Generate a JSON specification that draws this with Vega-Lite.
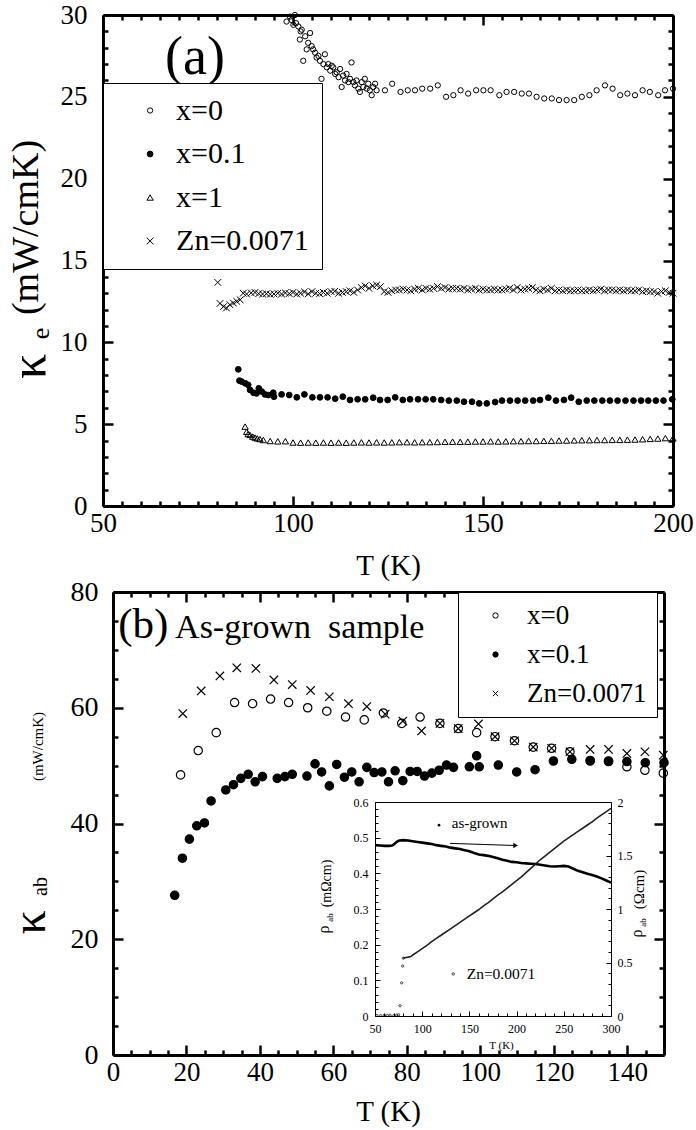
{
"$schema": "https://vega.github.io/schema/vega-lite/v6.json",
"width": 696, "height": 1130, "autosize": "none", "padding": 0, "background": "white",
"config": {
 "view": {"stroke": null},
 "font": "Liberation Serif",
 "axis": {"labelFont": "Liberation Serif", "titleFont": "Liberation Serif", "labelColor": "black", "titleColor": "black", "domainColor": "black", "tickColor": "black", "grid": false, "titleFontWeight": "normal", "labelFlush": false, "labelOverlap": false, "labelBound": false},
 "legend": {"labelFont": "Liberation Serif", "labelColor": "black"},
 "text": {"font": "Liberation Serif", "color": "black"}
},
"datasets": {
 "a": [
  {"s":"x=0","T":98.3,"k":29.6},{"s":"x=0","T":99.2,"k":29.9},{"s":"x=0","T":99.6,"k":29.7},{"s":"x=0","T":100.1,"k":29.4},{"s":"x=0","T":100.5,"k":30.0},{"s":"x=0","T":100.8,"k":29.5},{"s":"x=0","T":101.4,"k":29.3},{"s":"x=0","T":101.8,"k":28.5},{"s":"x=0","T":102.0,"k":29.0},{"s":"x=0","T":102.3,"k":29.1},{"s":"x=0","T":102.7,"k":27.2},{"s":"x=0","T":103.2,"k":28.7},{"s":"x=0","T":103.6,"k":27.9},{"s":"x=0","T":104.0,"k":28.3},{"s":"x=0","T":104.5,"k":28.9},{"s":"x=0","T":104.9,"k":28.1},{"s":"x=0","T":105.3,"k":27.9},{"s":"x=0","T":105.8,"k":27.7},{"s":"x=0","T":106.2,"k":27.4},{"s":"x=0","T":106.7,"k":27.5},{"s":"x=0","T":107.1,"k":27.2},{"s":"x=0","T":107.5,"k":26.1},{"s":"x=0","T":108.0,"k":27.0},{"s":"x=0","T":108.4,"k":27.6},{"s":"x=0","T":108.9,"k":26.8},{"s":"x=0","T":109.3,"k":27.0},{"s":"x=0","T":109.8,"k":26.6},{"s":"x=0","T":110.2,"k":26.9},{"s":"x=0","T":110.6,"k":26.8},{"s":"x=0","T":111.1,"k":26.4},{"s":"x=0","T":111.5,"k":26.5},{"s":"x=0","T":112.0,"k":26.2},{"s":"x=0","T":112.4,"k":26.7},{"s":"x=0","T":112.8,"k":25.6},{"s":"x=0","T":113.2,"k":26.3},{"s":"x=0","T":113.7,"k":26.0},{"s":"x=0","T":114.1,"k":26.4},{"s":"x=0","T":114.6,"k":25.9},{"s":"x=0","T":115.0,"k":26.1},{"s":"x=0","T":115.4,"k":27.1},{"s":"x=0","T":115.9,"k":25.9},{"s":"x=0","T":116.3,"k":25.7},{"s":"x=0","T":116.7,"k":26.0},{"s":"x=0","T":117.2,"k":25.5},{"s":"x=0","T":117.6,"k":25.3},{"s":"x=0","T":118.1,"k":25.9},{"s":"x=0","T":118.5,"k":25.6},{"s":"x=0","T":118.9,"k":26.1},{"s":"x=0","T":119.4,"k":25.5},{"s":"x=0","T":119.8,"k":25.8},{"s":"x=0","T":120.2,"k":25.4},{"s":"x=0","T":120.7,"k":25.1},{"s":"x=0","T":121.1,"k":25.6},{"s":"x=0","T":121.6,"k":25.8},{"s":"x=0","T":122.0,"k":25.4},
  {"s":"x=0","T":124.2,"k":25.4},{"s":"x=0","T":126.1,"k":25.8},{"s":"x=0","T":128.3,"k":25.3},{"s":"x=0","T":130.2,"k":25.4},{"s":"x=0","T":132.1,"k":25.4},{"s":"x=0","T":134.0,"k":25.5},{"s":"x=0","T":136.1,"k":25.5},{"s":"x=0","T":138.1,"k":25.7},{"s":"x=0","T":140.3,"k":25.0},{"s":"x=0","T":142.2,"k":25.1},{"s":"x=0","T":144.1,"k":25.4},{"s":"x=0","T":146.1,"k":25.2},{"s":"x=0","T":148.2,"k":25.4},{"s":"x=0","T":150.1,"k":25.4},{"s":"x=0","T":152.0,"k":25.4},{"s":"x=0","T":154.3,"k":25.1},{"s":"x=0","T":156.2,"k":25.3},{"s":"x=0","T":158.2,"k":25.3},{"s":"x=0","T":160.2,"k":25.2},{"s":"x=0","T":162.1,"k":25.2},{"s":"x=0","T":164.1,"k":25.0},{"s":"x=0","T":166.1,"k":24.9},{"s":"x=0","T":168.1,"k":24.9},{"s":"x=0","T":170.0,"k":24.8},{"s":"x=0","T":172.0,"k":24.8},{"s":"x=0","T":174.0,"k":24.8},{"s":"x=0","T":176.0,"k":25.0},{"s":"x=0","T":178.0,"k":25.1},{"s":"x=0","T":179.9,"k":25.4},{"s":"x=0","T":182.1,"k":25.7},{"s":"x=0","T":184.1,"k":25.5},{"s":"x=0","T":186.1,"k":25.1},{"s":"x=0","T":188.0,"k":25.2},{"s":"x=0","T":190.0,"k":25.1},{"s":"x=0","T":192.0,"k":25.4},{"s":"x=0","T":193.9,"k":25.3},{"s":"x=0","T":196.1,"k":25.1},{"s":"x=0","T":197.9,"k":25.4},{"s":"x=0","T":200.0,"k":25.5},
  {"s":"x=0.1","T":85.6,"k":8.35},{"s":"x=0.1","T":85.9,"k":7.66},{"s":"x=0.1","T":86.5,"k":7.6},{"s":"x=0.1","T":87.4,"k":7.5},{"s":"x=0.1","T":88.2,"k":7.4},{"s":"x=0.1","T":88.7,"k":7.09},{"s":"x=0.1","T":89.6,"k":6.92},{"s":"x=0.1","T":90.4,"k":6.88},{"s":"x=0.1","T":91.0,"k":7.19},{"s":"x=0.1","T":91.8,"k":6.99},{"s":"x=0.1","T":92.6,"k":6.82},{"s":"x=0.1","T":93.5,"k":6.78},{"s":"x=0.1","T":94.8,"k":6.92},{"s":"x=0.1","T":95.0,"k":6.68},{"s":"x=0.1","T":97.0,"k":6.82},{"s":"x=0.1","T":99.0,"k":6.78},{"s":"x=0.1","T":101.0,"k":6.64},{"s":"x=0.1","T":103.0,"k":6.82},{"s":"x=0.1","T":105.1,"k":6.64},{"s":"x=0.1","T":107.1,"k":6.64},{"s":"x=0.1","T":109.1,"k":6.64},{"s":"x=0.1","T":111.1,"k":6.56},{"s":"x=0.1","T":113.1,"k":6.68},{"s":"x=0.1","T":115.0,"k":6.48},{"s":"x=0.1","T":117.0,"k":6.52},{"s":"x=0.1","T":119.0,"k":6.52},{"s":"x=0.1","T":121.1,"k":6.62},{"s":"x=0.1","T":122.9,"k":6.48},{"s":"x=0.1","T":124.9,"k":6.48},{"s":"x=0.1","T":126.9,"k":6.64},{"s":"x=0.1","T":128.9,"k":6.48},{"s":"x=0.1","T":130.8,"k":6.52},{"s":"x=0.1","T":132.9,"k":6.52},{"s":"x=0.1","T":134.9,"k":6.52},{"s":"x=0.1","T":136.9,"k":6.52},{"s":"x=0.1","T":139.0,"k":6.48},{"s":"x=0.1","T":141.0,"k":6.44},{"s":"x=0.1","T":143.1,"k":6.44},{"s":"x=0.1","T":145.0,"k":6.37},{"s":"x=0.1","T":147.1,"k":6.37},{"s":"x=0.1","T":149.0,"k":6.27},{"s":"x=0.1","T":151.0,"k":6.27},{"s":"x=0.1","T":153.2,"k":6.35},{"s":"x=0.1","T":155.0,"k":6.44},{"s":"x=0.1","T":157.1,"k":6.44},{"s":"x=0.1","T":159.1,"k":6.44},{"s":"x=0.1","T":161.1,"k":6.44},{"s":"x=0.1","T":163.2,"k":6.44},{"s":"x=0.1","T":165.0,"k":6.48},{"s":"x=0.1","T":167.2,"k":6.62},{"s":"x=0.1","T":169.2,"k":6.44},{"s":"x=0.1","T":171.3,"k":6.48},{"s":"x=0.1","T":173.2,"k":6.62},{"s":"x=0.1","T":175.2,"k":6.37},{"s":"x=0.1","T":177.3,"k":6.44},{"s":"x=0.1","T":179.3,"k":6.44},{"s":"x=0.1","T":181.4,"k":6.44},{"s":"x=0.1","T":183.4,"k":6.44},{"s":"x=0.1","T":185.4,"k":6.44},{"s":"x=0.1","T":187.5,"k":6.44},{"s":"x=0.1","T":189.6,"k":6.44},{"s":"x=0.1","T":191.6,"k":6.44},{"s":"x=0.1","T":193.5,"k":6.44},{"s":"x=0.1","T":195.5,"k":6.44},{"s":"x=0.1","T":197.5,"k":6.44},{"s":"x=0.1","T":199.8,"k":6.52},
  {"s":"x=1","T":87.4,"k":4.85},{"s":"x=1","T":87.8,"k":4.54},{"s":"x=1","T":88.2,"k":4.4},{"s":"x=1","T":88.7,"k":4.34},{"s":"x=1","T":89.4,"k":4.24},{"s":"x=1","T":90.0,"k":4.18},{"s":"x=1","T":90.6,"k":4.13},{"s":"x=1","T":91.3,"k":4.09},{"s":"x=1","T":92.2,"k":4.03},{"s":"x=1","T":94,"k":3.97},{"s":"x=1","T":96,"k":3.95},{"s":"x=1","T":98,"k":3.96},{"s":"x=1","T":100,"k":3.88},{"s":"x=1","T":102,"k":3.87},{"s":"x=1","T":104,"k":3.88},{"s":"x=1","T":106,"k":3.87},{"s":"x=1","T":108,"k":3.88},{"s":"x=1","T":110,"k":3.87},{"s":"x=1","T":112,"k":3.88},{"s":"x=1","T":114,"k":3.87},{"s":"x=1","T":116,"k":3.88},{"s":"x=1","T":118,"k":3.89},{"s":"x=1","T":120,"k":3.88},{"s":"x=1","T":122,"k":3.89},{"s":"x=1","T":124,"k":3.88},{"s":"x=1","T":126,"k":3.89},{"s":"x=1","T":128,"k":3.9},{"s":"x=1","T":130,"k":3.9},{"s":"x=1","T":132,"k":3.89},{"s":"x=1","T":134,"k":3.9},{"s":"x=1","T":136,"k":3.9},{"s":"x=1","T":138,"k":3.91},{"s":"x=1","T":140,"k":3.92},{"s":"x=1","T":142,"k":3.93},{"s":"x=1","T":144,"k":3.92},{"s":"x=1","T":146,"k":3.93},{"s":"x=1","T":148,"k":3.94},{"s":"x=1","T":150,"k":3.94},{"s":"x=1","T":152,"k":3.95},{"s":"x=1","T":154,"k":3.94},{"s":"x=1","T":156,"k":3.95},{"s":"x=1","T":158,"k":3.96},{"s":"x=1","T":160,"k":3.96},{"s":"x=1","T":162,"k":3.97},{"s":"x=1","T":164,"k":3.97},{"s":"x=1","T":166,"k":3.98},{"s":"x=1","T":168,"k":3.98},{"s":"x=1","T":170,"k":4.0},{"s":"x=1","T":172,"k":4.0},{"s":"x=1","T":174,"k":4.01},{"s":"x=1","T":176,"k":4.02},{"s":"x=1","T":178,"k":4.02},{"s":"x=1","T":180,"k":4.03},{"s":"x=1","T":182,"k":4.03},{"s":"x=1","T":184,"k":4.04},{"s":"x=1","T":186,"k":4.04},{"s":"x=1","T":188,"k":4.05},{"s":"x=1","T":190,"k":4.06},{"s":"x=1","T":192,"k":4.08},{"s":"x=1","T":194,"k":4.1},{"s":"x=1","T":196,"k":4.12},{"s":"x=1","T":198,"k":4.15},{"s":"x=1","T":200,"k":4.13},
  {"s":"Zn=0.0071","T":80.2,"k":13.66},{"s":"Zn=0.0071","T":80.8,"k":12.38},{"s":"Zn=0.0071","T":81.7,"k":12.18},{"s":"Zn=0.0071","T":82.5,"k":12.1},{"s":"Zn=0.0071","T":83.4,"k":12.3},{"s":"Zn=0.0071","T":84.3,"k":12.4},{"s":"Zn=0.0071","T":85.2,"k":12.5},{"s":"Zn=0.0071","T":86.1,"k":12.6},{"s":"Zn=0.0071","T":86.9,"k":13.0},{"s":"Zn=0.0071","T":87.8,"k":12.95},
  {"s":"Zn=0.0071","T":89,"k":13.02},{"s":"Zn=0.0071","T":90,"k":13.05},{"s":"Zn=0.0071","T":91,"k":12.98},{"s":"Zn=0.0071","T":92,"k":12.95},{"s":"Zn=0.0071","T":93,"k":12.97},{"s":"Zn=0.0071","T":94,"k":12.93},{"s":"Zn=0.0071","T":95,"k":12.96},{"s":"Zn=0.0071","T":96,"k":13.0},{"s":"Zn=0.0071","T":97,"k":12.95},{"s":"Zn=0.0071","T":98,"k":13.02},{"s":"Zn=0.0071","T":99,"k":12.98},{"s":"Zn=0.0071","T":100,"k":13.05},{"s":"Zn=0.0071","T":101,"k":12.95},{"s":"Zn=0.0071","T":102,"k":13.0},{"s":"Zn=0.0071","T":103,"k":13.08},{"s":"Zn=0.0071","T":104,"k":12.96},{"s":"Zn=0.0071","T":105,"k":13.1},{"s":"Zn=0.0071","T":106,"k":13.0},{"s":"Zn=0.0071","T":107,"k":12.98},{"s":"Zn=0.0071","T":108,"k":13.05},{"s":"Zn=0.0071","T":109,"k":13.0},{"s":"Zn=0.0071","T":110,"k":13.1},{"s":"Zn=0.0071","T":111,"k":13.12},{"s":"Zn=0.0071","T":112,"k":13.0},{"s":"Zn=0.0071","T":113,"k":13.05},{"s":"Zn=0.0071","T":114,"k":13.1},{"s":"Zn=0.0071","T":115,"k":13.15},{"s":"Zn=0.0071","T":116,"k":13.05},{"s":"Zn=0.0071","T":117,"k":13.2},{"s":"Zn=0.0071","T":118,"k":13.35},{"s":"Zn=0.0071","T":119,"k":13.45},{"s":"Zn=0.0071","T":120,"k":13.3},{"s":"Zn=0.0071","T":121,"k":13.45},{"s":"Zn=0.0071","T":122,"k":13.5},{"s":"Zn=0.0071","T":123,"k":13.4},{"s":"Zn=0.0071","T":124,"k":13.1},{"s":"Zn=0.0071","T":125,"k":13.05},{"s":"Zn=0.0071","T":126,"k":13.15},{"s":"Zn=0.0071","T":127,"k":13.2},{"s":"Zn=0.0071","T":128,"k":13.2},{"s":"Zn=0.0071","T":129,"k":13.25},{"s":"Zn=0.0071","T":130,"k":13.2},{"s":"Zn=0.0071","T":131,"k":13.15},{"s":"Zn=0.0071","T":132,"k":13.25},{"s":"Zn=0.0071","T":133,"k":13.3},{"s":"Zn=0.0071","T":134,"k":13.2},{"s":"Zn=0.0071","T":135,"k":13.3},{"s":"Zn=0.0071","T":136,"k":13.25},{"s":"Zn=0.0071","T":137,"k":13.3},{"s":"Zn=0.0071","T":138,"k":13.4},{"s":"Zn=0.0071","T":139,"k":13.3},{"s":"Zn=0.0071","T":140,"k":13.35},{"s":"Zn=0.0071","T":141,"k":13.25},{"s":"Zn=0.0071","T":142,"k":13.3},{"s":"Zn=0.0071","T":143,"k":13.3},{"s":"Zn=0.0071","T":144,"k":13.25},{"s":"Zn=0.0071","T":145,"k":13.3},{"s":"Zn=0.0071","T":146,"k":13.2},{"s":"Zn=0.0071","T":147,"k":13.25},{"s":"Zn=0.0071","T":148,"k":13.3},{"s":"Zn=0.0071","T":149,"k":13.2},{"s":"Zn=0.0071","T":150,"k":13.25},{"s":"Zn=0.0071","T":151,"k":13.2},{"s":"Zn=0.0071","T":152,"k":13.2},{"s":"Zn=0.0071","T":153,"k":13.25},{"s":"Zn=0.0071","T":154,"k":13.2},{"s":"Zn=0.0071","T":155,"k":13.2},{"s":"Zn=0.0071","T":156,"k":13.25},{"s":"Zn=0.0071","T":157,"k":13.3},{"s":"Zn=0.0071","T":158,"k":13.2},{"s":"Zn=0.0071","T":159,"k":13.35},{"s":"Zn=0.0071","T":160,"k":13.2},{"s":"Zn=0.0071","T":161,"k":13.25},{"s":"Zn=0.0071","T":162,"k":13.3},{"s":"Zn=0.0071","T":163,"k":13.35},{"s":"Zn=0.0071","T":164,"k":13.2},{"s":"Zn=0.0071","T":165,"k":13.15},{"s":"Zn=0.0071","T":166,"k":13.25},{"s":"Zn=0.0071","T":167,"k":13.2},{"s":"Zn=0.0071","T":168,"k":13.3},{"s":"Zn=0.0071","T":169,"k":13.15},{"s":"Zn=0.0071","T":170,"k":13.2},{"s":"Zn=0.0071","T":171,"k":13.15},{"s":"Zn=0.0071","T":172,"k":13.2},{"s":"Zn=0.0071","T":173,"k":13.15},{"s":"Zn=0.0071","T":174,"k":13.15},{"s":"Zn=0.0071","T":175,"k":13.2},{"s":"Zn=0.0071","T":176,"k":13.15},{"s":"Zn=0.0071","T":177,"k":13.15},{"s":"Zn=0.0071","T":178,"k":13.2},{"s":"Zn=0.0071","T":179,"k":13.15},{"s":"Zn=0.0071","T":180,"k":13.2},{"s":"Zn=0.0071","T":181,"k":13.25},{"s":"Zn=0.0071","T":182,"k":13.15},{"s":"Zn=0.0071","T":183,"k":13.2},{"s":"Zn=0.0071","T":184,"k":13.2},{"s":"Zn=0.0071","T":185,"k":13.15},{"s":"Zn=0.0071","T":186,"k":13.2},{"s":"Zn=0.0071","T":187,"k":13.15},{"s":"Zn=0.0071","T":188,"k":13.2},{"s":"Zn=0.0071","T":189,"k":13.15},{"s":"Zn=0.0071","T":190,"k":13.15},{"s":"Zn=0.0071","T":191,"k":13.2},{"s":"Zn=0.0071","T":192,"k":13.1},{"s":"Zn=0.0071","T":193,"k":13.15},{"s":"Zn=0.0071","T":194,"k":13.1},{"s":"Zn=0.0071","T":195,"k":13.1},{"s":"Zn=0.0071","T":196,"k":13.0},{"s":"Zn=0.0071","T":197,"k":13.1},{"s":"Zn=0.0071","T":198,"k":13.15},{"s":"Zn=0.0071","T":199,"k":13.05},{"s":"Zn=0.0071","T":200,"k":13.0}
 ],
 "b": [
  {"s":"x=0","T":18.4,"k":48.4},{"s":"x=0","T":23.2,"k":52.6},{"s":"x=0","T":28.1,"k":55.7},{"s":"x=0","T":33.1,"k":60.9},{"s":"x=0","T":38.0,"k":60.7},{"s":"x=0","T":42.9,"k":61.5},{"s":"x=0","T":47.8,"k":60.9},{"s":"x=0","T":53.0,"k":60.0},{"s":"x=0","T":58.2,"k":59.4},{"s":"x=0","T":63.3,"k":58.4},{"s":"x=0","T":68.4,"k":57.9},{"s":"x=0","T":73.6,"k":59.1},{"s":"x=0","T":78.6,"k":57.3},{"s":"x=0","T":83.6,"k":58.4},{"s":"x=0","T":89.0,"k":57.3},{"s":"x=0","T":94.0,"k":56.4},{"s":"x=0","T":99.0,"k":55.7},{"s":"x=0","T":104.0,"k":55.0},{"s":"x=0","T":109.3,"k":54.3},{"s":"x=0","T":114.4,"k":53.2},{"s":"x=0","T":119.4,"k":53.0},{"s":"x=0","T":124.4,"k":52.4},{"s":"x=0","T":129.9,"k":50.9},{"s":"x=0","T":134.9,"k":50.7},{"s":"x=0","T":139.9,"k":49.8},{"s":"x=0","T":144.8,"k":49.2},{"s":"x=0","T":149.8,"k":48.7},
  {"s":"x=0.1","T":16.8,"k":27.6},{"s":"x=0.1","T":18.9,"k":34.0},{"s":"x=0.1","T":20.8,"k":37.3},{"s":"x=0.1","T":22.8,"k":39.6},{"s":"x=0.1","T":24.9,"k":40.1},{"s":"x=0.1","T":26.7,"k":43.9},{"s":"x=0.1","T":30.7,"k":45.8},{"s":"x=0.1","T":32.8,"k":46.7},{"s":"x=0.1","T":34.8,"k":47.8},{"s":"x=0.1","T":36.8,"k":48.5},{"s":"x=0.1","T":38.7,"k":47.2},{"s":"x=0.1","T":40.7,"k":48.1},{"s":"x=0.1","T":44.7,"k":47.8},{"s":"x=0.1","T":46.8,"k":48.1},{"s":"x=0.1","T":48.8,"k":48.5},{"s":"x=0.1","T":52.8,"k":48.2},{"s":"x=0.1","T":55.0,"k":50.3},{"s":"x=0.1","T":56.8,"k":48.9},{"s":"x=0.1","T":58.9,"k":46.5},{"s":"x=0.1","T":60.9,"k":50.2},{"s":"x=0.1","T":63.0,"k":48.0},{"s":"x=0.1","T":65.0,"k":48.9},{"s":"x=0.1","T":67.0,"k":47.2},{"s":"x=0.1","T":69.1,"k":49.7},{"s":"x=0.1","T":71.1,"k":48.8},{"s":"x=0.1","T":73.2,"k":48.9},{"s":"x=0.1","T":75.0,"k":47.2},{"s":"x=0.1","T":76.8,"k":49.1},{"s":"x=0.1","T":78.9,"k":47.4},{"s":"x=0.1","T":80.9,"k":49.0},{"s":"x=0.1","T":82.8,"k":49.0},{"s":"x=0.1","T":84.8,"k":48.2},{"s":"x=0.1","T":86.8,"k":48.7},{"s":"x=0.1","T":88.8,"k":49.2},{"s":"x=0.1","T":90.8,"k":50.1},{"s":"x=0.1","T":92.7,"k":49.7},{"s":"x=0.1","T":97.0,"k":49.8},{"s":"x=0.1","T":99.0,"k":51.7},{"s":"x=0.1","T":99.7,"k":49.8},{"s":"x=0.1","T":104.9,"k":50.1},{"s":"x=0.1","T":109.9,"k":48.9},{"s":"x=0.1","T":114.9,"k":49.3},{"s":"x=0.1","T":119.9,"k":50.8},{"s":"x=0.1","T":124.9,"k":51.1},{"s":"x=0.1","T":129.9,"k":50.8},{"s":"x=0.1","T":134.9,"k":50.8},{"s":"x=0.1","T":139.9,"k":50.7},{"s":"x=0.1","T":144.9,"k":50.5},{"s":"x=0.1","T":150.0,"k":50.5},
  {"s":"Zn=0.0071","T":19.0,"k":59.0},{"s":"Zn=0.0071","T":24.0,"k":62.9},{"s":"Zn=0.0071","T":29.1,"k":65.5},{"s":"Zn=0.0071","T":33.7,"k":66.9},{"s":"Zn=0.0071","T":38.9,"k":66.8},{"s":"Zn=0.0071","T":43.8,"k":64.8},{"s":"Zn=0.0071","T":48.8,"k":64.0},{"s":"Zn=0.0071","T":53.8,"k":63.0},{"s":"Zn=0.0071","T":58.9,"k":61.9},{"s":"Zn=0.0071","T":64.1,"k":60.7},{"s":"Zn=0.0071","T":69.1,"k":60.2},{"s":"Zn=0.0071","T":74.1,"k":58.9},{"s":"Zn=0.0071","T":78.9,"k":57.7},{"s":"Zn=0.0071","T":84.0,"k":56.0},{"s":"Zn=0.0071","T":89.0,"k":57.3},{"s":"Zn=0.0071","T":94.0,"k":56.4},{"s":"Zn=0.0071","T":99.5,"k":57.2},{"s":"Zn=0.0071","T":104.0,"k":55.0},{"s":"Zn=0.0071","T":109.3,"k":54.3},{"s":"Zn=0.0071","T":114.4,"k":53.2},{"s":"Zn=0.0071","T":119.4,"k":53.0},{"s":"Zn=0.0071","T":124.4,"k":52.4},{"s":"Zn=0.0071","T":129.9,"k":52.8},{"s":"Zn=0.0071","T":134.9,"k":52.8},{"s":"Zn=0.0071","T":139.9,"k":52.1},{"s":"Zn=0.0071","T":144.8,"k":52.4},{"s":"Zn=0.0071","T":149.8,"k":51.8}
 ],
 "ag": [
  {"T":50,"r":0.479},{"T":55,"r":0.478},{"T":60,"r":0.477},{"T":65,"r":0.477},{"T":68,"r":0.478},{"T":70,"r":0.481},{"T":72,"r":0.486},{"T":74,"r":0.49},{"T":76,"r":0.492},{"T":80,"r":0.493},{"T":85,"r":0.492},{"T":90,"r":0.49},{"T":95,"r":0.488},{"T":100,"r":0.486},{"T":105,"r":0.484},{"T":110,"r":0.482},{"T":115,"r":0.479},{"T":120,"r":0.477},{"T":125,"r":0.475},{"T":130,"r":0.472},{"T":135,"r":0.47},{"T":140,"r":0.468},{"T":145,"r":0.465},{"T":150,"r":0.462},{"T":155,"r":0.457},{"T":160,"r":0.453},{"T":165,"r":0.451},{"T":170,"r":0.449},{"T":175,"r":0.446},{"T":180,"r":0.442},{"T":185,"r":0.438},{"T":190,"r":0.435},{"T":195,"r":0.432},{"T":200,"r":0.431},{"T":205,"r":0.429},{"T":210,"r":0.428},{"T":215,"r":0.427},{"T":220,"r":0.426},{"T":225,"r":0.424},{"T":230,"r":0.422},{"T":235,"r":0.42},{"T":240,"r":0.419},{"T":245,"r":0.42},{"T":250,"r":0.421},{"T":255,"r":0.419},{"T":260,"r":0.413},{"T":265,"r":0.407},{"T":270,"r":0.403},{"T":275,"r":0.399},{"T":280,"r":0.395},{"T":285,"r":0.391},{"T":290,"r":0.386},{"T":295,"r":0.38},{"T":300,"r":0.374}
 ],
 "znl": [
  {"T":80,"r":0.54},{"T":82,"r":0.545},{"T":85,"r":0.55},{"T":88,"r":0.556},{"T":90,"r":0.57},{"T":95,"r":0.6},{"T":100,"r":0.63},{"T":105,"r":0.66},{"T":110,"r":0.695},{"T":115,"r":0.725},{"T":120,"r":0.755},{"T":125,"r":0.785},{"T":130,"r":0.815},{"T":135,"r":0.845},{"T":140,"r":0.875},{"T":145,"r":0.905},{"T":150,"r":0.935},{"T":155,"r":0.965},{"T":160,"r":0.995},{"T":165,"r":1.03},{"T":170,"r":1.06},{"T":175,"r":1.095},{"T":180,"r":1.13},{"T":185,"r":1.16},{"T":190,"r":1.195},{"T":195,"r":1.23},{"T":200,"r":1.265},{"T":205,"r":1.3},{"T":210,"r":1.34},{"T":215,"r":1.38},{"T":220,"r":1.42},{"T":225,"r":1.46},{"T":230,"r":1.495},{"T":235,"r":1.53},{"T":240,"r":1.565},{"T":245,"r":1.6},{"T":250,"r":1.635},{"T":255,"r":1.665},{"T":260,"r":1.695},{"T":265,"r":1.725},{"T":270,"r":1.755},{"T":275,"r":1.785},{"T":280,"r":1.815},{"T":285,"r":1.85},{"T":290,"r":1.88},{"T":295,"r":1.91},{"T":300,"r":1.94}
 ],
 "znp": [
  {"T":52,"r":0.005},{"T":56,"r":0.004},{"T":60,"r":0.006},{"T":63,"r":0.005},{"T":66,"r":0.007},{"T":70,"r":0.004},{"T":73,"r":0.008},{"T":75,"r":0.012},{"T":76.5,"r":0.096},{"T":78.2,"r":0.31},{"T":79.3,"r":0.467},{"T":80,"r":0.54}
 ]
},
"layer": [
 {
  "layer": [
   {
    "data": {"name": "a"},
    "mark": {"type": "point", "stroke": "black", "strokeWidth": 1, "opacity": 1},
    "encoding": {
     "x": {"field": "T", "type": "quantitative", "scale": {"domain": [50, 200], "range": [103, 673], "nice": false, "zero": false},
      "axis": {"orient": "bottom", "offset": -624, "values": [50, 100, 150, 200], "tickSize": -10, "tickWidth": 2.5, "domainWidth": 3, "labelFontSize": 27, "labelPadding": 14, "title": "T (K)", "titleFontSize": 29, "titleX": 388, "titleY": 68, "titleAlign": "center", "titleBaseline": "alphabetic"}},
     "y": {"field": "k", "type": "quantitative", "scale": {"domain": [0, 30], "range": [506, 15], "nice": false, "zero": false},
      "axis": {"orient": "left", "offset": -103, "values": [0, 5, 10, 15, 20, 25, 30], "tickSize": -10, "tickWidth": 2.5, "domainWidth": 3, "labelFontSize": 27, "labelPadding": 26, "title": "κ", "titleFontSize": 50, "titleX": -59, "titleY": 366, "titleAngle": 270, "titleAlign": "center", "titleBaseline": "alphabetic"}},
     "shape": {"field": "s", "type": "nominal", "scale": {"domain": ["x=0", "x=0.1", "x=1", "Zn=0.0071"], "range": ["circle", "circle", "triangle-up", "M-1,-1L1,1M-1,1L1,-1"]},
      "legend": {"title": null, "orient": "none", "legendX": 103, "legendY": 83, "fillColor": "white", "strokeColor": "black", "padding": 12.5, "symbolOffset": 19.6, "labelOffset": 11, "labelFontSize": 30, "symbolStrokeColor": "black", "symbolStrokeWidth": 1, "rowPadding": 13.5}},
     "fill": {"field": "s", "type": "nominal", "scale": {"domain": ["x=0", "x=0.1", "x=1", "Zn=0.0071"], "range": ["transparent", "black", "transparent", "transparent"]},
      "legend": {"title": null, "orient": "none", "legendX": 103, "legendY": 83, "fillColor": "white", "strokeColor": "black", "padding": 12.5, "symbolOffset": 19.6, "labelOffset": 11, "labelFontSize": 30, "symbolStrokeColor": "black", "symbolStrokeWidth": 1, "rowPadding": 13.5}},
     "stroke": {"field": "s", "type": "nominal", "scale": {"domain": ["x=0", "x=0.1", "x=1", "Zn=0.0071"], "range": ["black", "black", "black", "black"]},
      "legend": {"title": null, "orient": "none", "legendX": 103, "legendY": 83, "fillColor": "white", "strokeColor": "black", "padding": 12.5, "symbolOffset": 19.6, "labelOffset": 11, "labelFontSize": 30, "symbolStrokeColor": "black", "symbolStrokeWidth": 1, "rowPadding": 13.5}},
     "size": {"field": "s", "type": "nominal", "scale": {"domain": ["x=0", "x=0.1", "x=1", "Zn=0.0071"], "range": [28, 45, 26, 24]},
      "legend": {"title": null, "orient": "none", "legendX": 103, "legendY": 83, "fillColor": "white", "strokeColor": "black", "padding": 12.5, "symbolOffset": 19.6, "labelOffset": 11, "labelFontSize": 30, "symbolStrokeColor": "black", "symbolStrokeWidth": 1, "rowPadding": 13.5}}
    }
   },
   {
    "data": {"values": [{}]},
    "mark": {"type": "point", "opacity": 0},
    "encoding": {
     "x": {"datum": 100, "type": "quantitative", "axis": {"orient": "bottom", "offset": -624, "values": [55,60,65,70,75,80,85,90,95,105,110,115,120,125,130,135,140,145,155,160,165,170,175,180,185,190,195], "tickSize": -5, "tickWidth": 2.5, "domain": false, "labels": false, "title": null}},
     "y": {"datum": 10, "type": "quantitative", "axis": {"orient": "left", "offset": -103, "values": [1,2,3,4,6,7,8,9,11,12,13,14,16,17,18,19,21,22,23,24,26,27,28,29], "tickSize": -5, "tickWidth": 2.5, "domain": false, "labels": false, "title": "e", "titleFontSize": 26, "titleX": -55, "titleY": 333, "titleAngle": 270, "titleAlign": "center", "titleBaseline": "alphabetic"}}
    }
   },
   {
    "data": {"values": [{}]},
    "mark": {"type": "point", "opacity": 0},
    "encoding": {
     "x": {"datum": 100, "type": "quantitative", "axis": {"orient": "top", "offset": -15, "values": [50, 100, 150, 200], "tickSize": -10, "tickWidth": 2.5, "domainWidth": 3, "labels": false, "title": null}},
     "y": {"datum": 10, "type": "quantitative", "axis": {"orient": "right", "offset": -23, "values": [0, 5, 10, 15, 20, 25, 30], "tickSize": -10, "tickWidth": 2.5, "domainWidth": 3, "labels": false, "title": null}}
    }
   },
   {
    "data": {"values": [{}]},
    "mark": {"type": "point", "opacity": 0},
    "encoding": {
     "x": {"datum": 100, "type": "quantitative", "axis": {"orient": "top", "offset": -15, "values": [55,60,65,70,75,80,85,90,95,105,110,115,120,125,130,135,140,145,155,160,165,170,175,180,185,190,195], "tickSize": -5, "tickWidth": 2.5, "domain": false, "labels": false, "title": null}},
     "y": {"datum": 10, "type": "quantitative", "axis": {"orient": "right", "offset": -23, "values": [1,2,3,4,6,7,8,9,11,12,13,14,16,17,18,19,21,22,23,24,26,27,28,29], "tickSize": -5, "tickWidth": 2.5, "domain": false, "labels": false, "title": null}}
    }
   },
   {
    "data": {"values": [{}]},
    "mark": {"type": "point", "opacity": 0},
    "encoding": {
     "y": {"datum": 10, "type": "quantitative", "axis": {"orient": "left", "offset": -103, "ticks": false, "domain": false, "labels": false, "title": "(mW/cmK)", "titleFontSize": 38, "titleX": -66, "titleY": 227, "titleAngle": 270, "titleAlign": "center", "titleBaseline": "alphabetic"}}
    }
   },
   {
    "data": {"values": [{}]},
    "mark": {"type": "text", "text": "(a)", "fontSize": 54, "align": "left", "baseline": "alphabetic"},
    "encoding": {
     "x": {"datum": 66.3, "type": "quantitative", "axis": null},
     "y": {"datum": 26.4, "type": "quantitative", "axis": null}
    }
   }
  ],
  "resolve": {"axis": {"x": "independent", "y": "independent"}}
 },
 {
  "layer": [
   {
    "data": {"name": "b"},
    "mark": {"type": "point", "stroke": "black", "strokeWidth": 1.2, "opacity": 1, "size": 70},
    "encoding": {
     "x": {"field": "T", "type": "quantitative", "scale": {"domain": [0, 150], "range": [113, 664], "nice": false, "zero": false},
      "axis": {"orient": "bottom", "offset": -75, "values": [0, 20, 40, 60, 80, 100, 120, 140], "tickSize": -10, "tickWidth": 2.5, "domainWidth": 3, "labelFontSize": 27, "labelPadding": 14, "title": "T (K)", "titleFontSize": 29, "titleX": 388, "titleY": 65, "titleAlign": "center", "titleBaseline": "alphabetic"}},
     "y": {"field": "k", "type": "quantitative", "scale": {"domain": [0, 80], "range": [1055, 592], "nice": false, "zero": false},
      "axis": {"orient": "left", "offset": -113, "values": [0, 20, 40, 60, 80], "tickSize": -10, "tickWidth": 2.5, "domainWidth": 3, "labelFontSize": 28, "labelPadding": 25, "title": "κ", "titleFontSize": 48, "titleX": -69, "titleY": 922, "titleAngle": 270, "titleAlign": "center", "titleBaseline": "alphabetic"}},
     "shape": {"field": "s", "type": "nominal", "scale": {"domain": ["x=0", "x=0.1", "Zn=0.0071"], "range": ["circle", "circle", "M-1,-1L1,1M-1,1L1,-1"]},
      "legend": {"title": null, "orient": "none", "legendX": 458, "legendY": 592, "fillColor": "white", "strokeColor": "black", "padding": 10, "symbolOffset": 14, "labelOffset": 18, "labelFontSize": 27, "symbolSize": 28, "symbolStrokeColor": "black", "symbolStrokeWidth": 1, "rowPadding": 11}},
     "fill": {"field": "s", "type": "nominal", "scale": {"domain": ["x=0", "x=0.1", "Zn=0.0071"], "range": ["transparent", "black", "transparent"]},
      "legend": {"title": null, "orient": "none", "legendX": 458, "legendY": 592, "fillColor": "white", "strokeColor": "black", "padding": 10, "symbolOffset": 14, "labelOffset": 18, "labelFontSize": 27, "symbolSize": 28, "symbolStrokeColor": "black", "symbolStrokeWidth": 1, "rowPadding": 11}},
     "stroke": {"field": "s", "type": "nominal", "scale": {"domain": ["x=0", "x=0.1", "Zn=0.0071"], "range": ["black", "black", "black"]},
      "legend": {"title": null, "orient": "none", "legendX": 458, "legendY": 592, "fillColor": "white", "strokeColor": "black", "padding": 10, "symbolOffset": 14, "labelOffset": 18, "labelFontSize": 27, "symbolSize": 28, "symbolStrokeColor": "black", "symbolStrokeWidth": 1, "rowPadding": 11}}
    }
   },
   {
    "data": {"values": [{}]},
    "mark": {"type": "point", "opacity": 0},
    "encoding": {
     "x": {"datum": 50, "type": "quantitative", "axis": {"orient": "bottom", "offset": -75, "values": [5,10,15,25,30,35,45,50,55,65,70,75,85,90,95,105,110,115,125,130,135,145], "tickSize": -5, "tickWidth": 2.5, "domain": false, "labels": false, "title": null}},
     "y": {"datum": 40, "type": "quantitative", "axis": {"orient": "left", "offset": -113, "values": [5,10,15,25,30,35,45,50,55,65,70,75], "tickSize": -5, "tickWidth": 2.5, "domain": false, "labels": false, "title": "ab", "titleFontSize": 20, "titleX": -67, "titleY": 886, "titleAngle": 270, "titleAlign": "center", "titleBaseline": "alphabetic"}}
    }
   },
   {
    "data": {"values": [{}]},
    "mark": {"type": "point", "opacity": 0},
    "encoding": {
     "x": {"datum": 50, "type": "quantitative", "axis": {"orient": "top", "offset": -592, "values": [0, 20, 40, 60, 80, 100, 120, 140], "tickSize": -10, "tickWidth": 2.5, "domainWidth": 3, "labels": false, "title": null}},
     "y": {"datum": 40, "type": "quantitative", "axis": {"orient": "right", "offset": -32, "values": [0, 20, 40, 60, 80], "tickSize": -10, "tickWidth": 2.5, "domainWidth": 3, "labels": false, "title": null}}
    }
   },
   {
    "data": {"values": [{}]},
    "mark": {"type": "point", "opacity": 0},
    "encoding": {
     "x": {"datum": 50, "type": "quantitative", "axis": {"orient": "top", "offset": -592, "values": [5,10,15,25,30,35,45,50,55,65,70,75,85,90,95,105,110,115,125,130,135,145], "tickSize": -5, "tickWidth": 2.5, "domain": false, "labels": false, "title": null}},
     "y": {"datum": 40, "type": "quantitative", "axis": {"orient": "right", "offset": -32, "values": [5,10,15,25,30,35,45,50,55,65,70,75], "tickSize": -5, "tickWidth": 2.5, "domain": false, "labels": false, "title": null}}
    }
   },
   {
    "data": {"values": [{}]},
    "mark": {"type": "point", "opacity": 0},
    "encoding": {
     "y": {"datum": 40, "type": "quantitative", "axis": {"orient": "left", "offset": -113, "ticks": false, "domain": false, "labels": false, "title": "(mW/cmK)", "titleFontSize": 15, "titleX": -71, "titleY": 746, "titleAngle": 270, "titleAlign": "center", "titleBaseline": "alphabetic"}}
    }
   },
   {
    "data": {"values": [{}]},
    "mark": {"type": "text", "text": "(b)", "fontSize": 43, "align": "left", "baseline": "alphabetic"},
    "encoding": {
     "x": {"datum": 1.4, "type": "quantitative", "axis": null},
     "y": {"datum": 72.0, "type": "quantitative", "axis": null}
    }
   },
   {
    "data": {"values": [{}]},
    "mark": {"type": "text", "text": "As-grown\u00a0 sample", "fontSize": 34, "align": "left", "baseline": "alphabetic"},
    "encoding": {
     "x": {"datum": 16.9, "type": "quantitative", "axis": null},
     "y": {"datum": 72.0, "type": "quantitative", "axis": null}
    }
   }
  ],
  "resolve": {"axis": {"x": "independent", "y": "independent"}}
 },
 {
  "layer": [
   {
    "data": {"name": "ag"},
    "mark": {"type": "line", "color": "black", "strokeWidth": 2.6},
    "encoding": {
     "x": {"field": "T", "type": "quantitative", "scale": {"domain": [50, 300], "range": [375, 611], "nice": false, "zero": false},
      "axis": {"orient": "bottom", "offset": -114, "values": [50, 100, 150, 200, 250, 300], "tickSize": -5, "tickWidth": 1, "domainWidth": 1, "labelFontSize": 12, "labelPadding": 12, "title": "T (K)", "titleFontSize": 11, "titleX": 501, "titleY": 32, "titleAlign": "center", "titleBaseline": "alphabetic"}},
     "y": {"field": "r", "type": "quantitative", "scale": {"domain": [0, 0.6], "range": [1016, 802], "nice": false, "zero": false},
      "axis": {"orient": "left", "offset": -375, "values": [0, 0.1, 0.2, 0.3, 0.4, 0.5, 0.6], "format": "~g", "tickSize": -5, "tickWidth": 1, "domainWidth": 1, "labelFontSize": 12, "labelPadding": 12, "title": "ρ", "titleFontSize": 16, "titleX": -47, "titleY": 929, "titleAngle": 270, "titleAlign": "center", "titleBaseline": "alphabetic"}}
    }
   },
   {
    "data": {"values": [{}]},
    "mark": {"type": "point", "opacity": 0},
    "encoding": {
     "x": {"datum": 100, "type": "quantitative", "axis": {"orient": "bottom", "offset": -114, "values": [60,70,80,90,110,120,130,140,160,170,180,190,210,220,230,240,260,270,280,290], "tickSize": -3, "tickWidth": 1, "domain": false, "labels": false, "title": null}},
     "y": {"datum": 0.3, "type": "quantitative", "axis": {"orient": "left", "offset": -375, "values": [0.02,0.04,0.06,0.08,0.12,0.14,0.16,0.18,0.22,0.24,0.26,0.28,0.32,0.34,0.36,0.38,0.42,0.44,0.46,0.48,0.52,0.54,0.56,0.58], "tickSize": -3, "tickWidth": 1, "domain": false, "labels": false, "title": "ab", "titleFontSize": 9, "titleX": -43, "titleY": 917, "titleAngle": 270, "titleAlign": "center", "titleBaseline": "alphabetic"}}
    }
   },
   {
    "data": {"values": [{}]},
    "mark": {"type": "point", "opacity": 0},
    "encoding": {
     "x": {"datum": 100, "type": "quantitative", "axis": {"orient": "top", "offset": -802, "ticks": false, "labels": false, "domainWidth": 1, "title": null}},
     "y": {"datum": 0.3, "type": "quantitative", "axis": {"orient": "left", "offset": -375, "ticks": false, "domain": false, "labels": false, "title": "(mΩcm)", "titleFontSize": 14, "titleX": -45, "titleY": 883, "titleAngle": 270, "titleAlign": "center", "titleBaseline": "alphabetic"}}
    }
   },
   {
    "data": {"values": [{}]},
    "mark": {"type": "text", "text": "as-grown", "fontSize": 15, "align": "left", "baseline": "alphabetic"},
    "encoding": {
     "x": {"datum": 131.3, "type": "quantitative", "axis": null},
     "y": {"datum": 0.527, "type": "quantitative", "axis": null}
    }
   },
   {
    "data": {"values": [{}]},
    "mark": {"type": "text", "text": "Zn=0.0071", "fontSize": 15.5, "align": "left", "baseline": "alphabetic"},
    "encoding": {
     "x": {"datum": 147.1, "type": "quantitative", "axis": null},
     "y": {"datum": 0.104, "type": "quantitative", "axis": null}
    }
   },
   {
    "data": {"values": [{}]},
    "mark": {"type": "point", "filled": true, "color": "black", "opacity": 1, "size": 7},
    "encoding": {
     "x": {"datum": 117.8, "type": "quantitative", "axis": null},
     "y": {"datum": 0.535, "type": "quantitative", "axis": null}
    }
   },
   {
    "data": {"values": [{}]},
    "mark": {"type": "point", "filled": false, "color": "black", "strokeWidth": 0.7, "opacity": 1, "size": 6},
    "encoding": {
     "x": {"datum": 132.9, "type": "quantitative", "axis": null},
     "y": {"datum": 0.118, "type": "quantitative", "axis": null}
    }
   },
   {
    "data": {"values": [{}]},
    "mark": {"type": "rule", "color": "black", "strokeWidth": 1},
    "encoding": {
     "x": {"datum": 129.4, "type": "quantitative", "axis": null},
     "x2": {"datum": 199},
     "y": {"datum": 0.484, "type": "quantitative", "axis": null},
     "y2": {"datum": 0.478}
    }
   },
   {
    "data": {"values": [{}]},
    "mark": {"type": "point", "shape": "triangle-right", "filled": true, "color": "black", "opacity": 1, "size": 30},
    "encoding": {
     "x": {"datum": 199, "type": "quantitative", "axis": null},
     "y": {"datum": 0.478, "type": "quantitative", "axis": null}
    }
   }
  ],
  "resolve": {"axis": {"x": "independent", "y": "independent"}}
 },
 {
  "layer": [
   {
    "data": {"name": "znl"},
    "mark": {"type": "line", "color": "#222222", "strokeWidth": 1.6},
    "encoding": {
     "x": {"field": "T", "type": "quantitative", "scale": {"domain": [50, 300], "range": [375, 611], "nice": false, "zero": false}, "axis": null},
     "y": {"field": "r", "type": "quantitative", "scale": {"domain": [0, 2], "range": [1016, 802], "nice": false, "zero": false},
      "axis": {"orient": "right", "offset": -85, "values": [0, 0.5, 1, 1.5, 2], "format": "~g", "tickSize": -5, "tickWidth": 1, "domainWidth": 1, "labelFontSize": 12, "labelPadding": 11, "title": "ρ", "titleFontSize": 16, "titleX": 30, "titleY": 933, "titleAngle": 270, "titleAlign": "center", "titleBaseline": "alphabetic"}}
    }
   },
   {
    "data": {"name": "znp"},
    "mark": {"type": "point", "filled": false, "color": "black", "strokeWidth": 0.7, "opacity": 1, "size": 5},
    "encoding": {
     "x": {"field": "T", "type": "quantitative", "axis": null},
     "y": {"field": "r", "type": "quantitative",
      "axis": {"orient": "right", "offset": -85, "values": [0.1,0.2,0.3,0.4,0.6,0.7,0.8,0.9,1.1,1.2,1.3,1.4,1.6,1.7,1.8,1.9], "tickSize": -3, "tickWidth": 1, "domain": false, "labels": false, "title": "ab", "titleFontSize": 9, "titleX": 34, "titleY": 922, "titleAngle": 270, "titleAlign": "center", "titleBaseline": "alphabetic"}}
    }
   },
   {
    "data": {"values": [{}]},
    "mark": {"type": "point", "opacity": 0},
    "encoding": {
     "y": {"datum": 1, "type": "quantitative", "axis": {"orient": "right", "offset": -85, "ticks": false, "domain": false, "labels": false, "title": "(Ωcm)", "titleFontSize": 15, "titleX": 32, "titleY": 889, "titleAngle": 270, "titleAlign": "center", "titleBaseline": "alphabetic"}}
    }
   }
  ],
  "resolve": {"axis": {"x": "independent", "y": "independent"}}
 }
],
"resolve": {
 "scale": {"x": "independent", "y": "independent", "shape": "independent", "fill": "independent", "stroke": "independent", "size": "independent"},
 "axis": {"x": "independent", "y": "independent"},
 "legend": {"shape": "independent", "fill": "independent", "stroke": "independent", "size": "independent"}
}
}
